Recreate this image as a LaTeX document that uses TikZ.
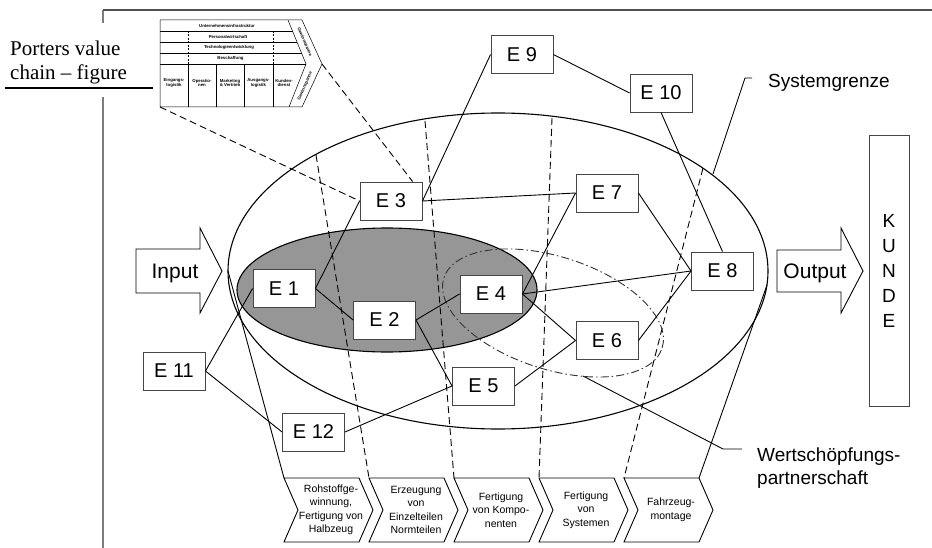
\documentclass[tikz,border=0pt]{standalone}
\usepackage{fontspec}
\setmainfont{Liberation Sans}
\newfontfamily\capserif{Liberation Serif}
\usetikzlibrary{calc}
\definecolor{shade}{RGB}{150,150,150}
\definecolor{boxline}{RGB}{70,70,70}
\definecolor{framegray}{RGB}{125,125,125}
\definecolor{framedark}{RGB}{80,80,80}
\begin{document}
\begin{tikzpicture}[x=1pt,y=-1pt,
  ebox/.style={draw=boxline,fill=white,line width=0.9pt,minimum width=62pt,minimum height=38pt,inner sep=0pt,font=\fontsize{20}{22}\selectfont},
  conn/.style={line width=0.9pt},
  proj/.style={line width=0.9pt,dash pattern=on 7pt off 4pt},
  rim/.style={line width=1.1pt},
  vc/.style={line width=0.5pt},
  vcdash/.style={line width=0.5pt,dash pattern=on 2pt off 1.5pt},
  vctext/.style={font=\fontsize{4.3}{4.7}\selectfont\bfseries,inner sep=0pt,align=center},
  chev/.style={draw,line width=0.9pt,fill=white},
  chevtext/.style={font=\fontsize{10.5}{13.5}\selectfont,align=center,inner sep=0pt},
  bigarrow/.style={draw,line width=0.9pt,fill=white},
  bigtext/.style={font=\fontsize{21}{24}\selectfont,inner sep=0pt},
  label/.style={font=\fontsize{19}{23}\selectfont,inner sep=0pt,align=left},
]
\useasboundingbox (0,0) rectangle (932,548);

% frame of the figure
\draw[framegray,line width=1.3pt] (103,548) -- (103,97);
\draw[framegray,line width=1.3pt] (103,23) -- (103,10);
\draw[framedark,line width=1.2pt] (103,10) -- (932,10);

% caption at the upper left
\node[anchor=north west,align=left,inner sep=0pt,font=\capserif\fontsize{21}{24}\selectfont] (caption) at (10,40.5) {Porters value\\chain – figure};
\draw[line width=1.3pt] (5,88) -- (153,88);

% small value chain
\draw[vc] (160,20) -- (302,20) -- (322,64) -- (302,107) -- (160,107) -- cycle;
\draw[vc] (288,20) -- (306,64) -- (289,107);
\draw[vc] (160,31) -- (292.5,31);
\draw[vc] (160,42) -- (297,42);
\draw[vc] (160,53) -- (301.5,53);
\draw[vc] (160,64) -- (306,64);
\foreach \x in {188,273} \draw[vcdash] (\x,31) -- (\x,64);
\foreach \x in {188,216,244,273} \draw[vc] (\x,64) -- (\x,107);
\coordinate (vcBL) at (160,107);
\coordinate (vcTip) at (322,64);
\node[vctext] (vs1) at (227,25.5) {Unternehmensinfrastruktur};
\node[vctext] (vs2) at (228,36.5) {Personalwirtschaft};
\node[vctext] (vs3) at (229,47.5) {Technologieentwicklung};
\node[vctext] (vs4) at (230.5,58.5) {Beschaffung};
\node[vctext] (vp1) at (174,83) {Eingangs-\\logistik};
\node[vctext] (vp2) at (202,83) {Operatio-\\nen};
\node[vctext] (vp3) at (230,83) {Marketing\\\& Vertrieb};
\node[vctext] (vp4) at (258.5,83) {Ausgangs-\\logistik};
\node[vctext] (vp5) at (284,83) {Kunden-\\dienst};
\node[vctext,rotate=-66.6] (vm1) at (304.5,42) {Gewinnspanne};
\node[vctext,rotate=66.6] (vm2) at (305,86) {Gewinnspanne};

% system boundary and the core ellipse
\draw[rim] (498,271) ellipse [x radius=270pt,y radius=158pt];
\draw[rim,fill=shade] (387,290) ellipse [x radius=150pt,y radius=62pt];

% process chevrons along the bottom
\foreach \L/\txt [count=\i] in {284/{Rohstoffge-\\winnung,\\Fertigung von\\Halbzeug},
                                369/{Erzeugung\\von\\Einzelteilen\\Normteilen},
                                454/{Fertigung\\von Kompo-\\nenten},
                                539/{Fertigung\\von\\Systemen},
                                624/{Fahrzeug-\\montage}} {
  \draw[chev] (\L,478) coordinate (ch\i-tl) -- ++(75,0) coordinate (ch\i-tr)
     -- ++(14,32) -- ++(-14,32) -- ++(-75,0) -- ++(14,-32) -- cycle;
  \node[chevtext] (chv\i) at (\L+47,510) {\txt};
}

% projections of the boundary onto the chevrons
\coordinate (sgL) at (228,271);
\coordinate (sgR) at (767,285);
\coordinate (pa) at (316,155);
\coordinate (pb) at (425,121);
\coordinate (pc) at (552,118);
\coordinate (pd) at (703,168);
\draw[line width=0.9pt] (sgL) -- (ch1-tl);
\draw[line width=0.9pt] (sgR) -- (ch5-tr);
\draw[proj] (pa) -- (ch2-tl);
\draw[proj] (pb) -- (ch3-tl);
\draw[proj] (pc) -- (ch4-tl);
\draw[proj] (pd) -- (ch5-tl);

% partnership ellipse
\draw[line width=0.9pt,black!80,dash pattern=on 8pt off 3pt on 1.5pt off 3pt,
      rotate around={-17.8:(553,313)}] (553,313) ellipse [x radius=114.6pt,y radius=56.3pt];

% leaders and labels
\coordinate (sgA) at (713,174);
\coordinate (sgB) at (745,78);
\coordinate (sgC) at (752,78);
\draw[line width=0.9pt] (sgA) -- (sgB) -- (sgC);
\node[label,anchor=base west] (sglabel) at (768,88) {Systemgrenze};
\coordinate (wpA) at (583,376);
\coordinate (wpB) at (723,449);
\coordinate (wpC) at (742,449);
\draw[line width=0.9pt] (wpA) -- (wpB) -- (wpC);
\node[label,anchor=north west] (wplabel) at (757,448) {Wertschöpfungs-\\partnerschaft};

% input, output and customer
\draw[bigarrow] (136,249) -- (200,249) -- (200,228) -- (222,271) -- (200,313) -- (200,293) -- (136,293) -- cycle;
\node[bigtext,anchor=base] (input) at (175,278) {Input};
\draw[bigarrow] (777,250) -- (841,250) -- (841,228) -- (863,271) -- (841,313) -- (841,292) -- (777,292) -- cycle;
\node[bigtext,anchor=base] (output) at (815,279) {Output};
\node[draw=boxline,line width=0.9pt,minimum width=40pt,minimum height=271pt,inner sep=0pt,
      align=center,font=\fontsize{19}{25}\selectfont] (kunde) at (889,270.5) {K\\U\\N\\D\\E};

% enterprises
\node[ebox] (E1) at (284,288.5) {E 1};
\node[ebox] (E2) at (384.5,320) {E 2};
\node[ebox] (E3) at (391,201) {E 3};
\node[ebox] (E4) at (491,294) {E 4};
\node[ebox] (E5) at (483.5,386) {E 5};
\node[ebox] (E6) at (607,340.5) {E 6};
\node[ebox] (E7) at (607,193) {E 7};
\node[ebox] (E8) at (722.5,271) {E 8};
\node[ebox] (E9) at (522,54.5) {E 9};
\node[ebox] (E10) at (661,93) {E 10};
\node[ebox] (E11) at (174,371) {E 11};
\node[ebox] (E12) at (313.5,432) {E 12};

% value chain mapped onto E 3
\draw[proj] (vcBL) -- (E3.west);
\draw[proj] (vcTip) -- (E3.42);

% links between enterprises
\draw[conn] (E1.east) -- (E3.west);
\draw[conn] (E1.east) -- (E2.west);
\draw[conn] (E3.east) -- (E9.west);
\draw[conn] (E3.east) -- (E7.west);
\draw[conn] (E9.east) -- (E10.west);
\draw[conn] (E10.south) -- (E8.north);
\draw[conn] (E7.east) -- (E8.west);
\draw[conn] (E4.east) -- (E8.west);
\draw[conn] (E6.east) -- (E8.west);
\draw[conn] (E4.east) -- (E7.west);
\draw[conn] (E4.east) -- (E6.west);
\draw[conn] (E2.east) -- (E4.west);
\draw[conn] (E2.east) -- (E5.west);
\draw[conn] (E5.east) -- (E6.west);
\draw[conn] (E12.east) -- (E5.west);
\draw[conn] (E11.east) -- (E12.west);
\draw[conn] (E11.east) -- (E1.west);
\end{tikzpicture}
\end{document}
